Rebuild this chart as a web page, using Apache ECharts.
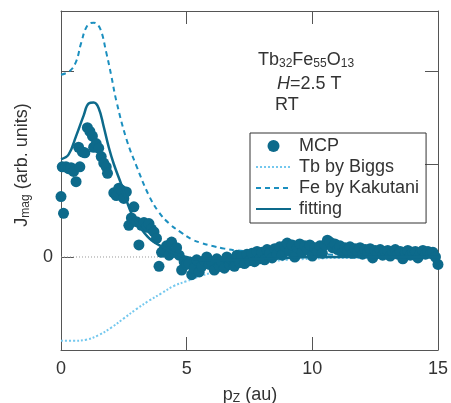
<!DOCTYPE html>
<html>
<head>
<meta charset="utf-8">
<script src="https://cdn.jsdelivr.net/npm/echarts@6/dist/echarts.min.js"></script>
<style>
  html, body { margin: 0; padding: 0; background: #fff; }
  #chart { width: 451px; height: 403px; }
</style>
</head>
<body>
<div id="chart"></div>
<script>
// measured MCP points (pz in au, Jmag arb. units)
const mcpPz = [
  0.0, 0.05, 0.1, 0.2, 0.3, 0.4, 0.5, 0.6, 0.7, 0.75, 0.85, 0.95, 1.05, 1.15, 1.25, 1.3, 1.4, 1.5, 1.6, 1.7,
  1.8, 1.85, 2.1, 2.2, 2.3, 2.4, 2.5, 2.6, 2.7, 2.8, 2.9, 3.0, 3.1, 3.2, 3.3, 3.4, 3.5, 3.6, 3.7, 3.8,
  3.9, 4.0, 4.1, 4.2, 4.3, 4.4, 4.5, 4.6, 4.7, 4.8, 4.9, 5.0, 5.1, 5.2, 5.3, 5.4, 5.5, 5.6, 5.7, 5.8,
  5.9, 6.0, 6.1, 6.2, 6.3, 6.4, 6.5, 6.6, 6.7, 6.8, 6.9, 7.0, 7.1, 7.2, 7.3, 7.4, 7.5, 7.6, 7.7, 7.8,
  7.9, 8.0, 8.1, 8.2, 8.3, 8.4, 8.5, 8.6, 8.7, 8.8, 8.9, 9.0, 9.1, 9.2, 9.3, 9.4, 9.5, 9.6, 9.7, 9.8,
  9.9, 10.0, 10.1, 10.2, 10.3, 10.4, 10.5, 10.6, 10.7, 10.8, 10.9, 11.0, 11.1, 11.2, 11.3, 11.4, 11.5, 11.6, 11.7, 11.8,
  11.9, 12.0, 12.1, 12.2, 12.3, 12.4, 12.5, 12.6, 12.7, 12.8, 12.9, 13.0, 13.1, 13.2, 13.3, 13.4, 13.5, 13.6, 13.7, 13.8,
  13.9, 14.0, 14.1, 14.2, 14.3, 14.4, 14.5, 14.6, 14.7, 14.8, 14.9, 15.0
];
const mcpJ = [
  0.65, 0.97, 0.47, 0.97, 0.95, 0.96, 0.92, 0.81, 1.18, 0.97, 1.13, 1.12, 1.39, 1.35, 1.30, 1.18, 1.22, 1.17, 1.08, 1.01,
  0.97, 0.90, 0.69, 0.66, 0.74, 0.72, 0.63, 0.70, 0.34, 0.42, 0.54, 0.38, 0.13, 0.34, 0.37, 0.32, 0.36, 0.30, 0.27, 0.20,
  -0.10, 0.05, 0.08, 0.12, 0.02, 0.16, 0.05, 0.10, 0.02, -0.14, -0.05, -0.08, -0.07, -0.19, -0.12, -0.03, -0.16, -0.10, -0.04, 0.00,
  -0.08, -0.05, -0.14, -0.02, -0.10, -0.05, -0.12, 0.00, -0.08, -0.03, -0.10, 0.02, -0.06, 0.01, -0.07, 0.03, -0.04, 0.04, -0.05, 0.06,
  -0.02, 0.05, -0.03, 0.08, 0.04, -0.01, 0.09, 0.03, 0.11, 0.02, 0.12, 0.15, 0.06, 0.13, 0.00, 0.10, 0.14, 0.05, 0.12, 0.08,
  0.13, 0.01, 0.10, 0.06, 0.12, 0.04, 0.13, 0.18, 0.16, 0.10, 0.14, 0.08, 0.12, 0.05, 0.10, 0.07, 0.11, 0.04, 0.09, 0.06,
  0.10, 0.03, 0.08, 0.05, 0.09, -0.01, 0.07, 0.04, 0.08, 0.02, 0.06, 0.07, 0.01, 0.05, 0.08, 0.03, 0.06, -0.02, 0.05, 0.07,
  0.02, 0.05, 0.06, -0.01, 0.04, 0.07, 0.03, 0.06, 0.04, 0.05, 0.00, -0.08
];

// Tb by Biggs
const tbPz = [0, 0.5, 1.0, 1.5, 2.0, 2.5, 3.0, 3.5, 4.0, 4.5, 5.0, 5.5, 6.0, 6.5, 7.0, 8.0, 9.0, 10, 11, 12, 13, 14, 15];
const tbJ = [-0.90, -0.90, -0.89, -0.84, -0.76, -0.66, -0.56, -0.47, -0.39, -0.31, -0.26, -0.21, -0.17, -0.14, -0.10, -0.06, -0.03, -0.02, -0.01, -0.01, -0.01, -0.01, -0.01];

// Fe by Kakutani
const fePz = [0, 0.35, 0.6, 0.8, 1.05, 1.3, 1.55, 1.8, 2.0, 2.2, 2.6, 3.0, 3.5, 3.9, 4.3, 4.8, 5.2, 5.6, 6.0, 6.5, 7.0, 8.0, 9.0, 10, 12, 15];
const feJ = [1.96, 2.00, 2.10, 2.30, 2.49, 2.52, 2.46, 2.20, 1.95, 1.68, 1.27, 0.98, 0.66, 0.48, 0.36, 0.26, 0.19, 0.15, 0.12, 0.09, 0.07, 0.05, 0.04, 0.03, 0.02, 0.02];

// fitting
const fitPz = [0, 0.3, 0.6, 0.9, 1.1, 1.3, 1.5, 1.7, 1.9, 2.1, 2.4, 2.8, 3.2, 3.6, 4.1, 4.5, 5.0, 5.5, 6.0, 7.0, 8.0, 9.0, 10, 12, 15];
const fitJ = [1.05, 1.10, 1.30, 1.52, 1.65, 1.66, 1.60, 1.40, 1.18, 1.00, 0.78, 0.47, 0.30, 0.18, 0.10, 0.04, 0.00, -0.03, -0.04, -0.03, -0.02, -0.01, 0.00, 0.00, 0.00];

const xTicks = [0, 5, 10, 15];

const pairs = (xs, ys) => xs.map((x, i) => [x, ys[i]]);

const dark = '#0d6a8b';
const mid = '#1b8fbf';
const light = '#74c8ee';
const axisCol = '#555';
const txt = '#333';
const font = 'Liberation Sans, Arial, sans-serif';
const fs = 18;

const chart = echarts.init(document.getElementById('chart'), null, { renderer: 'canvas' });

const axisBase = {
  type: 'value',
  splitLine: { show: false },
  axisLine: { show: true, onZero: false, lineStyle: { color: axisCol, width: 1 } },
  axisTick: { show: true, inside: true, length: 13, lineStyle: { color: axisCol, width: 1 } }
};

// no marker on the line icons in the legend
const noMark = { color: 'rgba(0,0,0,0)', borderWidth: 0, opacity: 0 };

const option = {
  animation: false,
  backgroundColor: '#fff',
  grid: { left: 61, top: 11, right: 12, bottom: 53 },
  xAxis: [
    Object.assign({}, axisBase, {
      position: 'bottom', min: 0, max: 15, interval: 5,
      axisLabel: {
        margin: 10, fontSize: fs, color: txt, fontFamily: font,
        formatter: (v) => xTicks.includes(v) ? String(v) : ''
      }
    }),
    Object.assign({}, axisBase, {
      position: 'top', min: 0, max: 15, interval: 5,
      axisLabel: { show: false }
    })
  ],
  yAxis: [
    Object.assign({}, axisBase, {
      position: 'left', min: -1, max: 2.645, interval: 1,
      axisLabel: {
        margin: 8, fontSize: fs, color: txt, fontFamily: font,
        formatter: (v) => v === 0 ? '0' : ''
      }
    }),
    Object.assign({}, axisBase, {
      position: 'right', min: -1, max: 2.645, interval: 1,
      axisLabel: { show: false }
    })
  ],
  legend: {
    orient: 'vertical',
    left: 250, top: 133,
    padding: [3, 7, 4, 5],
    itemGap: 1,
    itemWidth: 35, itemHeight: 12,
    itemStyle: noMark,
    borderColor: '#333', borderWidth: 1,
    textStyle: { fontSize: fs, color: txt, fontFamily: font, lineHeight: 20, padding: [0, 0, 0, 3] },
    data: [
      { name: 'MCP', icon: 'circle', itemStyle: { color: dark, opacity: 1 } },
      { name: 'Tb by Biggs', itemStyle: noMark },
      { name: 'Fe by Kakutani', itemStyle: noMark },
      { name: 'fitting', itemStyle: noMark }
    ]
  },
  series: [
    {
      name: 'Fe by Kakutani', type: 'line', data: pairs(fePz, feJ),
      showSymbol: false, symbol: 'none', smooth: 0.4, z: 2,
      lineStyle: { color: mid, width: 2, type: [5, 4] },
      itemStyle: { color: mid }
    },
    {
      name: 'Tb by Biggs', type: 'line', data: pairs(tbPz, tbJ),
      showSymbol: false, symbol: 'none', smooth: 0.4, z: 2,
      lineStyle: { color: light, width: 2, type: [2, 2] },
      itemStyle: { color: light }
    },
    {
      name: 'zero', type: 'line', data: [[0, 0], [15, 0]],
      showSymbol: false, symbol: 'none', z: 1, silent: true,
      lineStyle: { color: '#999', width: 1, type: [1, 2] }
    },
    {
      name: 'MCP', type: 'scatter', data: pairs(mcpPz, mcpJ),
      symbol: 'circle', symbolSize: 11, z: 3,
      itemStyle: { color: dark, opacity: 1 }
    },
    {
      name: 'fitting', type: 'line', data: pairs(fitPz, fitJ),
      showSymbol: false, symbol: 'none', smooth: 0.4, z: 4,
      lineStyle: { color: dark, width: 2.5 },
      itemStyle: { color: dark }
    }
  ],
  graphic: [
    {
      type: 'text', left: 258, top: 51, z: 10,
      style: {
        text: '{n|Tb}{s|32}{n|Fe}{s|55}{n|O}{s|13}',
        fill: txt,
        rich: {
          n: { fontSize: fs, fontFamily: font, fill: txt },
          s: { fontSize: 12, fontFamily: font, fill: txt, padding: [8, 0, 0, 0] }
        }
      }
    },
    {
      type: 'text', left: 277, top: 75, z: 10,
      style: {
        text: '{i|H}{n|=2.5 T}',
        fill: txt,
        rich: {
          i: { fontSize: fs, fontFamily: font, fontStyle: 'italic', fill: txt },
          n: { fontSize: fs, fontFamily: font, fill: txt }
        }
      }
    },
    {
      type: 'text', left: 275, top: 96, z: 10,
      style: { text: 'RT', fill: txt, font: fs + 'px ' + font }
    },
    {
      type: 'text', x: 22, y: 165, rotation: Math.PI / 2, z: 10,
      style: {
        text: '{n|J}{s|mag}{n| (arb. units)}',
        align: 'center', verticalAlign: 'middle', fill: txt,
        rich: {
          n: { fontSize: fs, fontFamily: font, fill: txt },
          s: { fontSize: 12, fontFamily: font, fill: txt, padding: [8, 0, 0, 0] }
        }
      }
    },
    {
      type: 'text', x: 250, y: 395, z: 10,
      style: {
        text: '{n|p}{s|Z}{n| (au)}',
        align: 'center', verticalAlign: 'middle', fill: txt,
        rich: {
          n: { fontSize: fs, fontFamily: font, fill: txt },
          s: { fontSize: 12, fontFamily: font, fill: txt, padding: [8, 0, 0, 0] }
        }
      }
    }
  ]
};

chart.setOption(option);
</script>
</body>
</html>
